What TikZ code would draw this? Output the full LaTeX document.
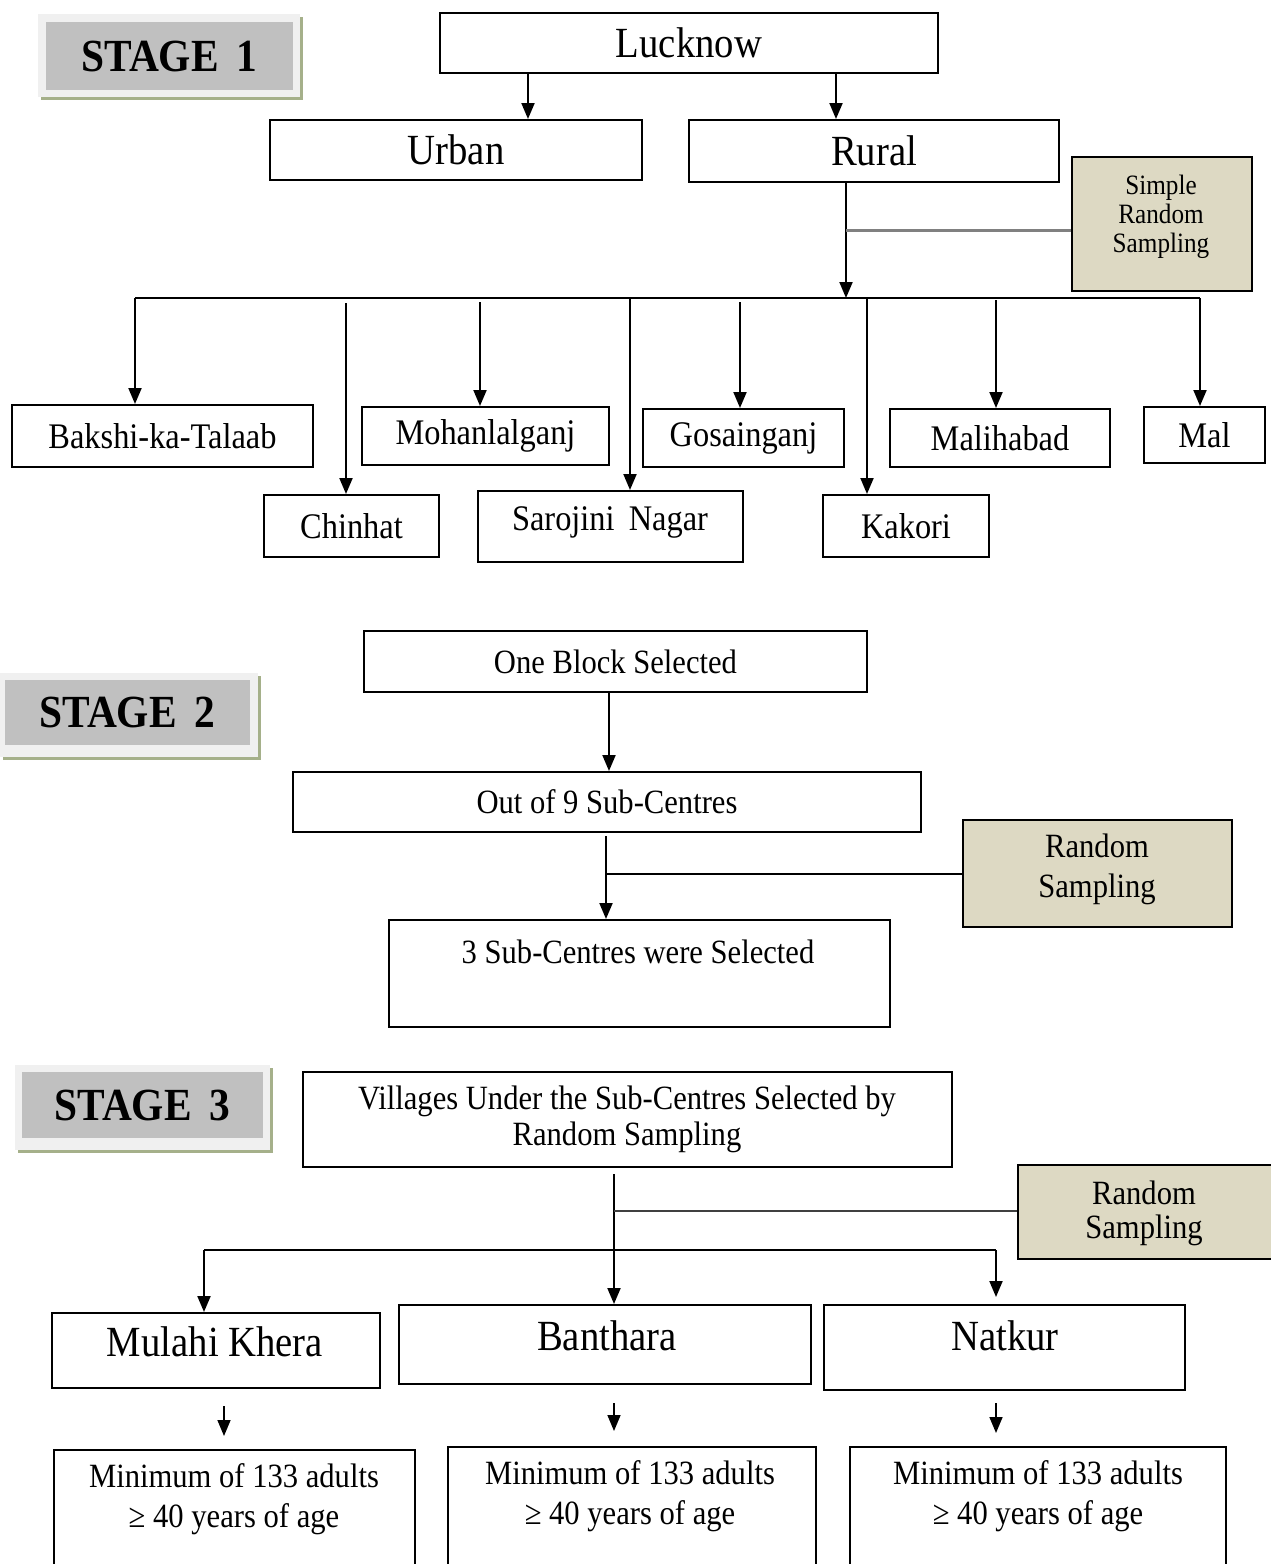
\documentclass[tikz,border=0pt]{standalone}
\usepackage{fontspec}
\setmainfont{Liberation Serif}[FakeStretch=0.9]
\usetikzlibrary{arrows.meta}
\definecolor{tanc}{HTML}{DDD9C3}
\definecolor{stg}{HTML}{C0C0C0}
\definecolor{stgout}{HTML}{F0F0F0}
\definecolor{olive}{HTML}{A5B08A}
\newcommand\szbig{\fontsize{43}{47}\selectfont}
\newcommand\szdist{\fontsize{36}{40}\selectfont}
\newcommand\szmid{\fontsize{34}{38}\selectfont}
\newcommand\szsm{\fontsize{28}{31}\selectfont}
\newcommand\szstage{\fontsize{46}{50}\selectfont\bfseries}
\tikzset{
  box/.style={draw=black, line width=2pt, fill=white, inner sep=0pt},
  tanbox/.style={box, fill=tanc},
  arr/.style={-{Triangle[length=16pt,width=13pt]}, line width=2pt},
  plain/.style={line width=2pt},
  gry/.style={line width=3pt, draw=gray},
  txt/.style={inner sep=0pt, align=center},
  stageshadow/.style={fill=olive, draw=none, inner sep=0pt},
  stageout/.style={fill=stgout, draw=none, inner sep=0pt},
  stagein/.style={fill=stg, draw=none, inner sep=0pt, font=\szstage},
}
\begin{document}
\begin{tikzpicture}[x=1pt,y=-1pt]
\clip (0,0) rectangle (1271,1564);
\fill[white] (0,0) rectangle (1271,1564);

% ---------- stage labels ----------
\node[stageshadow, minimum width=262, minimum height=83] (s1sh) at (172,58) {};
\node[stageout, minimum width=262, minimum height=83] (s1o) at (169,55) {};
\node[stagein, minimum width=247, minimum height=68] (s1) at (169.5,56) {STAGE\ \,1};

\node[stageshadow, minimum width=258, minimum height=84] (s2sh) at (132,718) {};
\node[stageout, minimum width=258, minimum height=84] (s2o) at (129,715) {};
\node[stagein, minimum width=245, minimum height=65] (s2) at (127.5,712.5) {STAGE\ \,2};

\node[stageshadow, minimum width=255, minimum height=85] (s3sh) at (145.5,1110.5) {};
\node[stageout, minimum width=255, minimum height=85] (s3o) at (142.5,1107.5) {};
\node[stagein, minimum width=241, minimum height=66] (s3) at (142.5,1105) {STAGE\ \,3};

% ---------- stage 1 ----------
\node[box, minimum width=498, minimum height=60, font=\szbig] (luck) at (689,43) {Lucknow};
\node[box, minimum width=372, minimum height=60, font=\szbig] (urban) at (456,150) {Urban};
\node[box, minimum width=370, minimum height=62, font=\szbig] (rural) at (874,151) {Rural};
\node[tanbox, minimum width=180, minimum height=134] (srs) at (1162,224) {};
\node[txt, font=\szsm] (srs-t) at (1161,217) {Simple\\[-2pt]Random\\[-2pt]Sampling};

\draw[arr] (luck.south -| 528,0) -- (urban.north -| 528,0);
\draw[arr] (luck.south -| 836,0) -- (rural.north -| 836,0);

\coordinate (busL) at (135,298);
\coordinate (busR) at (1200,298);
\draw[arr] (rural.south -| 846,0) -- (busL -| 846,0);
\draw[gry] (846,230) -- (srs.west |- 0,230);

\node[box, minimum width=301, minimum height=62, font=\szdist] (bak) at (162.5,436) {Bakshi-ka-Talaab};
\node[box, minimum width=247, minimum height=58, font=\szdist] (moh) at (485.5,436) {Mohanlalganj};
\node[box, minimum width=201, minimum height=58, font=\szdist] (gos) at (743.5,438) {Gosainganj};
\node[box, minimum width=220, minimum height=58, font=\szdist] (mali) at (1000,438) {Malihabad};
\node[box, minimum width=121, minimum height=56, font=\szdist] (mal) at (1204.5,435) {Mal};
\node[box, minimum width=175, minimum height=62, font=\szdist] (chin) at (351.5,526) {Chinhat};
\node[box, minimum width=265, minimum height=71] (saro) at (610.5,526.5) {};
\node[txt, font=\szdist] (saro-t) at (610,522) {Sarojini\,\ Nagar};
\node[box, minimum width=166, minimum height=62, font=\szdist] (kak) at (906,526) {Kakori};

\draw[plain] (busL) -- (busR);
\draw[arr] (busL) -- (bak.north -| busL);
\draw[arr] (busR) -- (mal.north -| busR);
\draw[arr, shorten <=5pt] (busL -| 346,0) -- (chin.north -| 346,0);
\draw[arr, shorten <=4pt] (busL -| 480,0) -- (moh.north -| 480,0);
\draw[arr] (busL -| 630,0) -- (saro.north -| 630,0);
\draw[arr, shorten <=4pt] (busL -| 740,0) -- (gos.north -| 740,0);
\draw[arr] (busL -| 867,0) -- (kak.north -| 867,0);
\draw[arr, shorten <=2pt] (busL -| 996,0) -- (mali.north -| 996,0);

% ---------- stage 2 ----------
\node[box, minimum width=503, minimum height=61, font=\szmid] (one) at (615.5,661.5) {One Block Selected};
\node[box, minimum width=628, minimum height=60, font=\szmid] (out9) at (607,802) {Out of 9 Sub-Centres};
\node[tanbox, minimum width=269, minimum height=107] (rs2) at (1097.5,873.5) {};
\node[txt, font=\szmid] (rs2-t) at (1097,869) {Random\\[2pt]Sampling};
\node[box, minimum width=501, minimum height=107] (three) at (639.5,973.5) {};
\node[txt, font=\szmid] (three-t) at (638,952) {3 Sub-Centres were Selected};

\draw[arr] (one.south -| 609,0) -- (out9.north -| 609,0);
\draw[arr, shorten <=3pt] (out9.south -| 606,0) -- (three.north -| 606,0);
\draw[plain] (606,874) -- (rs2.west |- 0,874);

% ---------- stage 3 ----------
\node[box, minimum width=649, minimum height=95] (vill) at (627.5,1119.5) {};
\node[txt, font=\szmid] (vill-t) at (627,1119) {Villages Under the Sub-Centres Selected by\\[-2pt]Random Sampling};
\node[tanbox, minimum width=256, minimum height=94] (rs3) at (1146,1212) {};
\node[txt, font=\szmid] (rs3-t) at (1144,1213) {Random\\[-4pt]Sampling};

\node[box, minimum width=328, minimum height=75] (mul) at (216,1350.5) {};
\node[txt, font=\szbig] (mul-t) at (215,1342) {Mulahi Khera};
\node[box, minimum width=412, minimum height=79] (ban) at (605,1344.5) {};
\node[txt, font=\szbig] (ban-t) at (607,1336) {Banthara};
\node[box, minimum width=361, minimum height=85] (nat) at (1004.5,1347.5) {};
\node[txt, font=\szbig] (nat-t) at (1005,1336) {Natkur};

\draw[arr, shorten <=6pt] (vill.south -| 614,0) -- (ban.north -| 614,0);
\draw[gry, draw=darkgray, line width=2.4pt] (614,1211) -- (rs3.west |- 0,1211);
\coordinate (b3L) at (204,1250);
\coordinate (b3R) at (996,1250);
\draw[plain] (b3L) -- (b3R);
\draw[arr] (b3L) -- (mul.north -| b3L);
\draw[arr, shorten >=7pt] (b3R) -- (nat.north -| b3R);

\node[box, minimum width=361, minimum height=150] (min1) at (234.5,1525) {};
\node[txt, font=\szmid] (min1-t) at (234,1499) {Minimum of 133 adults\\[2pt]≥ 40 years of age};
\node[box, minimum width=368, minimum height=150] (min2) at (632,1522) {};
\node[txt, font=\szmid] (min2-t) at (630,1496) {Minimum of 133 adults\\[2pt]≥ 40 years of age};
\node[box, minimum width=376, minimum height=150] (min3) at (1038,1522) {};
\node[txt, font=\szmid] (min3-t) at (1038,1496) {Minimum of 133 adults\\[2pt]≥ 40 years of age};

\draw[arr, line width=1.6pt, shorten <=17pt, shorten >=13pt] (mul.south -| 224,0) -- (min1.north -| 224,0);
\draw[arr, line width=1.6pt, shorten <=18pt, shorten >=15pt] (ban.south -| 614,0) -- (min2.north -| 614,0);
\draw[arr, line width=1.6pt, shorten <=12pt, shorten >=13pt] (nat.south -| 996,0) -- (min3.north -| 996,0);
\end{tikzpicture}
\end{document}
